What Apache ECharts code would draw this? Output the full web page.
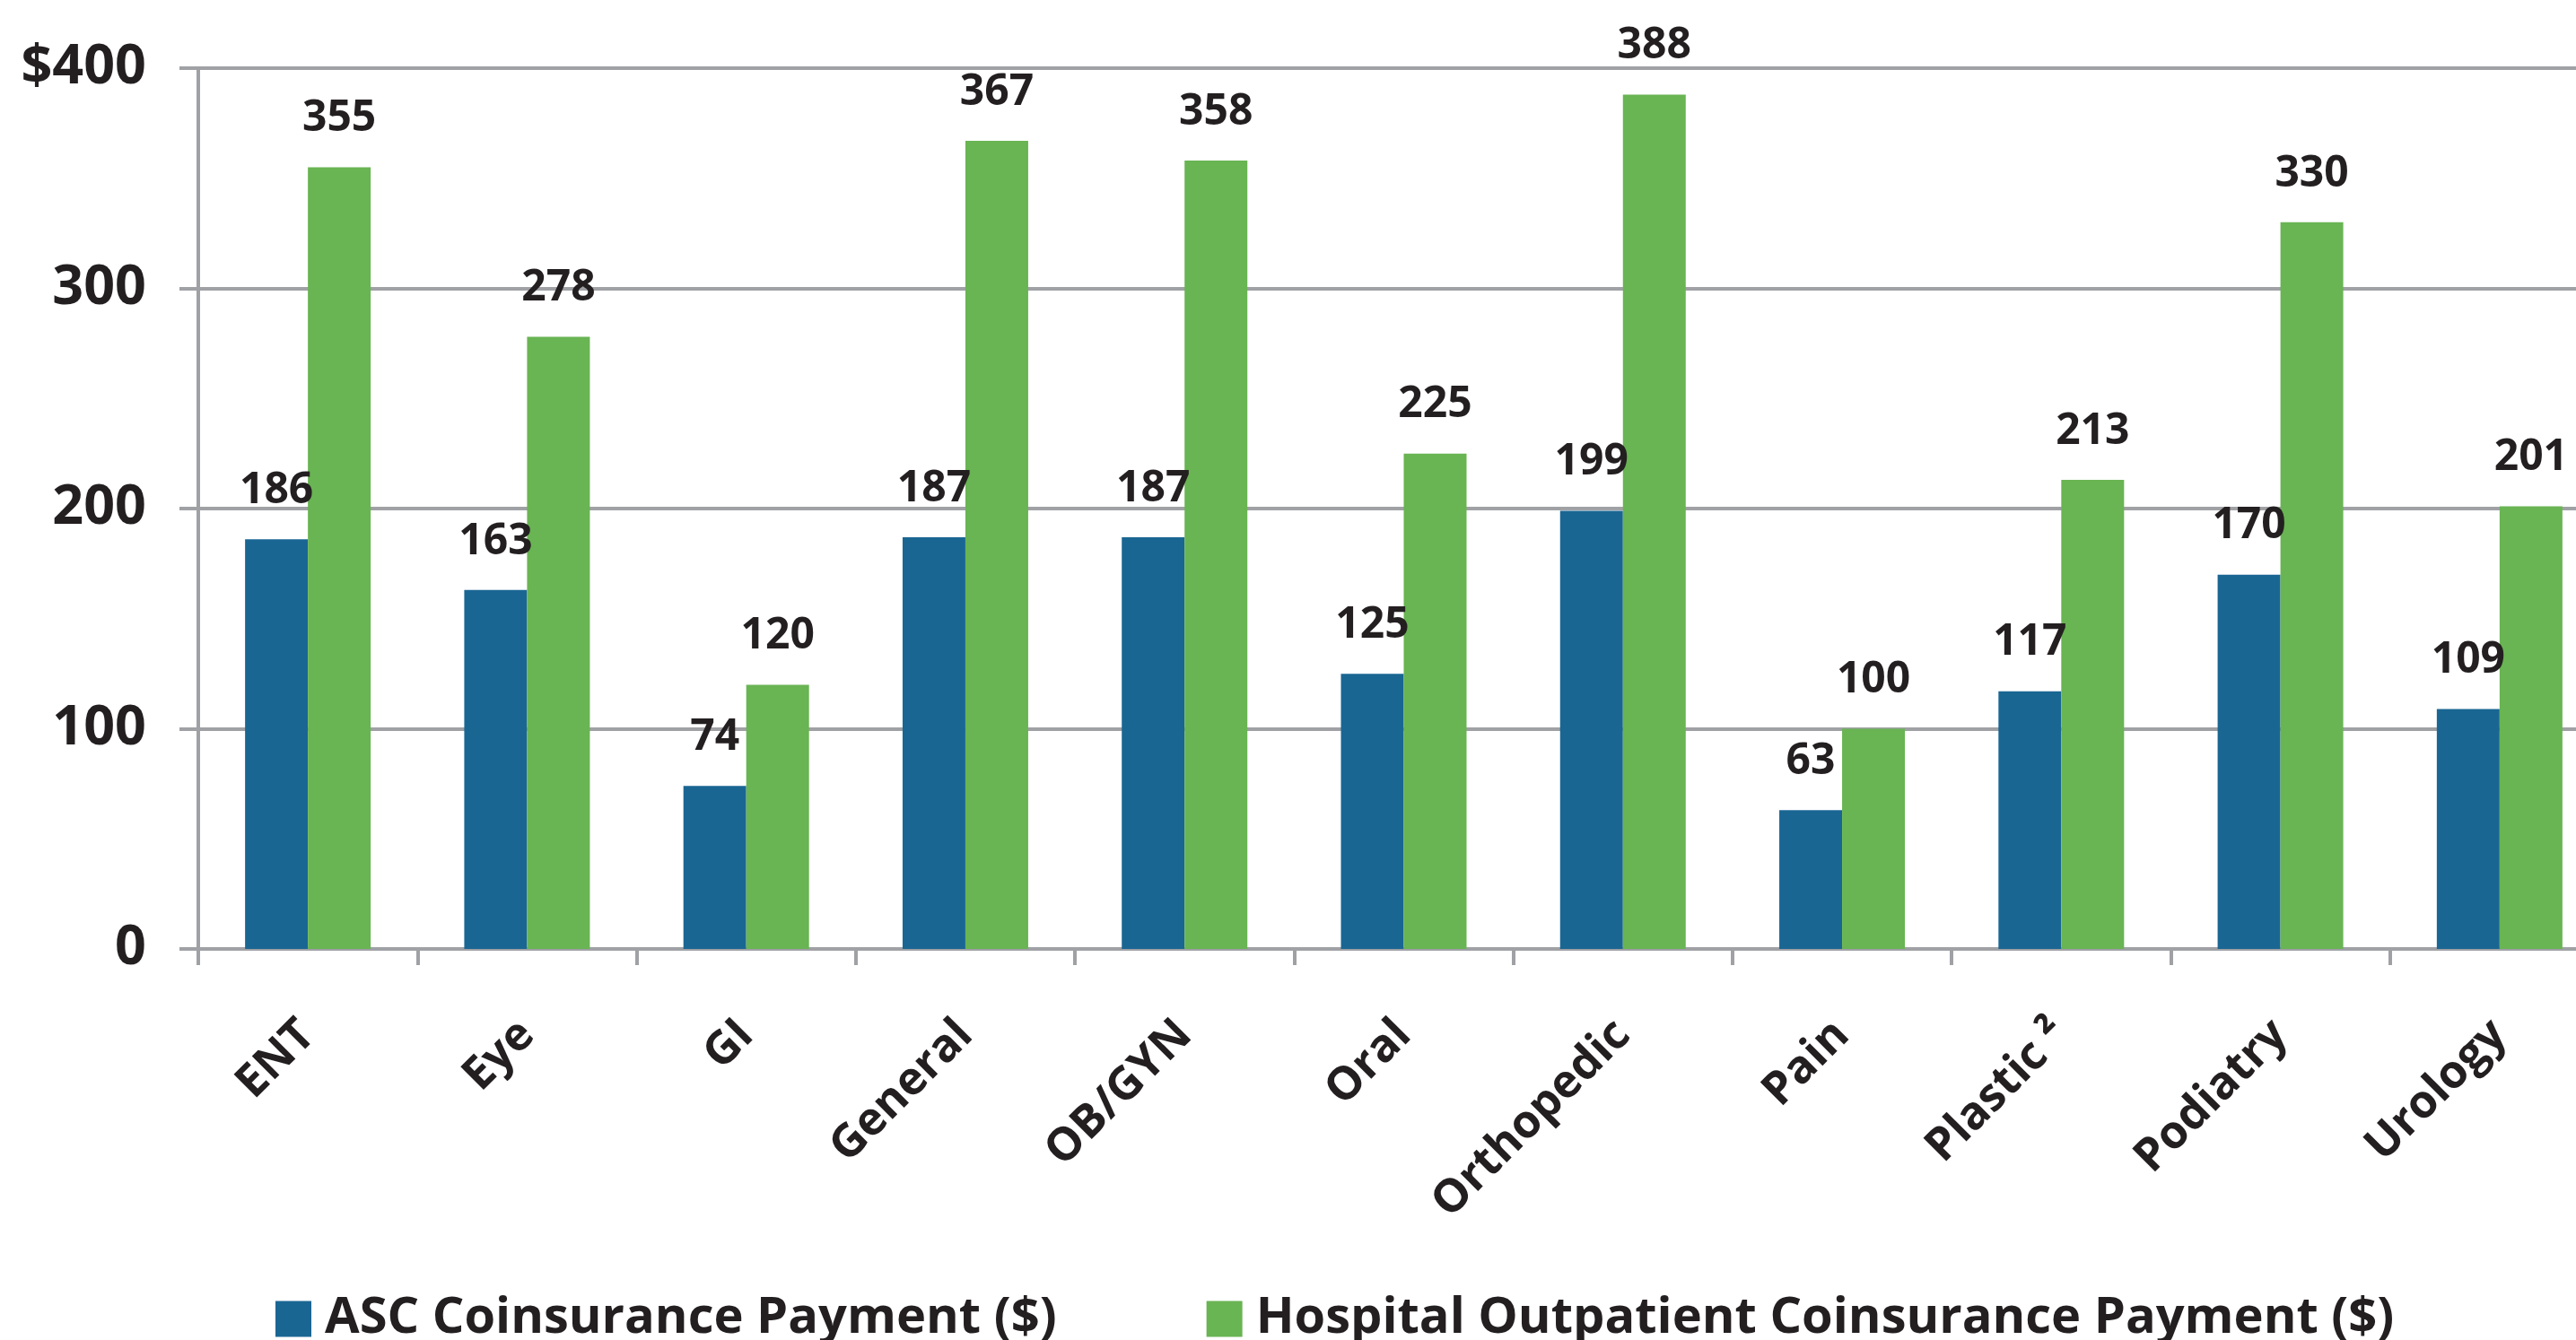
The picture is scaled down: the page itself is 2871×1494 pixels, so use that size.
<!DOCTYPE html>
<html>
<head>
<meta charset="utf-8">
<title>Coinsurance payment by specialty</title>
<script src="https://cdn.jsdelivr.net/npm/echarts@6/dist/echarts.min.js"></script>
<style>
  html, body { margin: 0; padding: 0; background: #fff; width: 2871px; height: 1494px; overflow: hidden; }
  /* the plot runs a little past the right edge in the source picture */
  #chart { width: 2908px; height: 1494px; }
</style>
</head>
<body>
<div id="chart"></div>
<script>
// data
const categories = ["ENT", "Eye", "GI", "General", "OB/GYN", "Oral", "Orthopedic", "Pain", "Plastic \u00b2", "Podiatry", "Urology"];
const ascPayment = [186, 163, 74, 187, 187, 125, 199, 63, 117, 170, 109];
const hospitalPayment = [355, 278, 120, 367, 358, 225, 388, 100, 213, 330, 201];
const yTicks = [0, 100, 200, 300, 400];

const textColor = "#231f20";
const gridColor = "#a0a1a5";
const font = "'Open Sans', 'Noto Sans', sans-serif";

const myChart = echarts.init(document.getElementById("chart"));

const barLabel = {
  show: true,
  position: "top",
  distance: 30,
  color: textColor,
  fontFamily: font,
  fontWeight: "bold",
  fontSize: 48,
};

myChart.setOption({
  animation: false,
  backgroundColor: "#fff",
  grid: {
    left: 221,
    top: 76,
    right: 0,
    height: 982,
    outerBoundsMode: "none",
  },
  legend: {
    left: 302,
    top: 1437,
    itemWidth: 40,
    itemHeight: 40,
    itemGap: 167,
    icon: "rect",
    textStyle: {
      color: textColor,
      fontFamily: font,
      fontWeight: "bold",
      fontSize: 56,
      lineHeight: 57,
      padding: [0, 0, 0, 10],
    },
  },
  xAxis: {
    type: "category",
    data: categories,
    boundaryGap: true,
    axisLine: { lineStyle: { color: gridColor, width: 4 } },
    axisTick: { show: true, length: 18, lineStyle: { color: gridColor, width: 4 } },
    axisLabel: {
      interval: 0,
      rotate: 45,
      margin: 88,
      verticalAlign: "middle",
      lineHeight: 44,
      color: textColor,
      fontFamily: font,
      fontWeight: "bold",
      fontSize: 51,
    },
  },
  yAxis: {
    type: "value",
    min: yTicks[0],
    max: yTicks[yTicks.length - 1],
    interval: 100,
    axisLine: { show: true, lineStyle: { color: gridColor, width: 4 } },
    axisTick: { show: true, length: 21, lineStyle: { color: gridColor, width: 4 } },
    splitLine: { show: true, lineStyle: { color: gridColor, width: 4 } },
    axisLabel: {
      margin: 58,
      color: textColor,
      fontFamily: font,
      fontWeight: "bold",
      fontSize: 61,
      formatter: (v) => (v === 400 ? "$" + v : String(v)),
    },
  },
  series: [
    {
      name: "ASC Coinsurance Payment ($)",
      type: "bar",
      data: ascPayment,
      barWidth: 70,
      barGap: "0%",
      itemStyle: { color: "#1a6693" },
      label: barLabel,
    },
    {
      name: "Hospital Outpatient Coinsurance Payment ($)",
      type: "bar",
      data: hospitalPayment,
      barWidth: 70,
      barGap: "0%",
      itemStyle: { color: "#69b453" },
      label: barLabel,
    },
  ],
});
</script>
</body>
</html>
